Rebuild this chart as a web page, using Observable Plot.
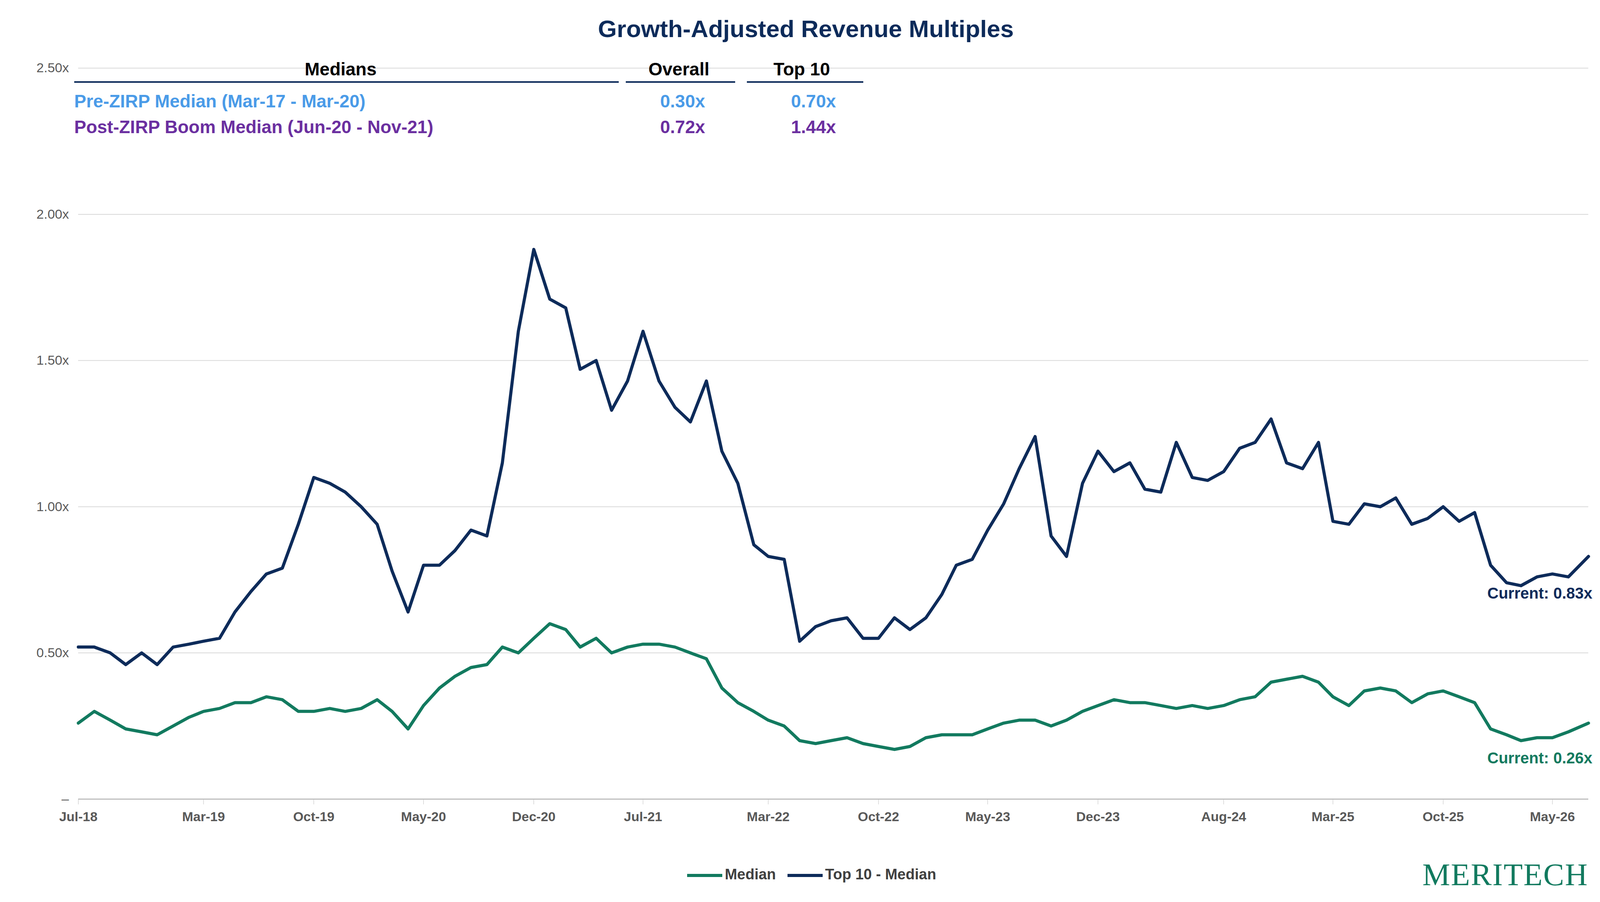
<!DOCTYPE html>
<html><head><meta charset="utf-8">
<script src="https://cdn.jsdelivr.net/npm/d3@7"></script>
<script src="https://cdn.jsdelivr.net/npm/@observablehq/plot@0.6"></script>
<style>
body{margin:0;width:4126px;height:2310px;background:#fff;font-family:Arial,"Liberation Sans",sans-serif;position:relative;overflow:hidden}
#title{position:absolute;top:38px;width:100%;text-align:center;font-size:62px;font-weight:bold;color:#0d2b5a}
#chart{position:absolute;left:0;top:120px}
.t{position:absolute;font-size:46px;font-weight:bold;white-space:nowrap}
.hl{position:absolute;height:4px;background:#0d2b5a}
#legend{position:absolute;top:2218px;width:100%;text-align:center;font-size:38px;font-weight:bold;color:#404040}
#legend span.sw{display:inline-block;width:90px;height:8px;vertical-align:middle;margin:0 6px 0 30px}
#logo{position:absolute;right:60px;top:2195px;font-family:"Liberation Serif","DejaVu Serif",serif;font-size:80px;color:#127a5f;letter-spacing:2px}
</style></head><body>
<div id="title">Growth-Adjusted Revenue Multiples</div>
<div id="chart"></div>
<div class="t" style="left:780px;top:150px;color:#000">Medians</div>
<div class="t" style="left:1660px;top:150px;color:#000">Overall</div>
<div class="t" style="left:1980px;top:150px;color:#000">Top 10</div>
<div class="hl" style="left:190px;top:208px;width:1394px"></div>
<div class="hl" style="left:1602px;top:208px;width:280px"></div>
<div class="hl" style="left:1912px;top:208px;width:298px"></div>
<div class="t" style="left:190px;top:232px;color:#4a9be8">Pre-ZIRP Median (Mar-17 - Mar-20)</div>
<div class="t" style="left:1690px;top:232px;color:#4a9be8">0.30x</div>
<div class="t" style="left:2025px;top:232px;color:#4a9be8">0.70x</div>
<div class="t" style="left:190px;top:298px;color:#6b2fa0">Post-ZIRP Boom Median (Jun-20 - Nov-21)</div>
<div class="t" style="left:1690px;top:298px;color:#6b2fa0">0.72x</div>
<div class="t" style="left:2025px;top:298px;color:#6b2fa0">1.44x</div>
<div id="legend"><span class="sw" style="background:#127a5f"></span>Median<span class="sw" style="background:#0d2b5a"></span>Top 10 - Median</div>
<div id="logo">MERITECH</div>
<script>
const dates = ["2018-07-01","2018-08-01","2018-09-01","2018-10-01","2018-11-01","2018-12-01","2019-01-01","2019-02-01","2019-03-01","2019-04-01","2019-05-01","2019-06-01","2019-07-01","2019-08-01","2019-09-01","2019-10-01","2019-11-01","2019-12-01","2020-01-01","2020-02-01","2020-03-01","2020-04-01","2020-05-01","2020-06-01","2020-07-01","2020-08-01","2020-09-01","2020-10-01","2020-11-01","2020-12-01","2021-01-01","2021-02-01","2021-03-01","2021-04-01","2021-05-01","2021-06-01","2021-07-01","2021-08-01","2021-09-01","2021-10-01","2021-11-01","2021-12-01","2022-01-01","2022-02-01","2022-03-01","2022-04-01","2022-05-01","2022-06-01","2022-07-01","2022-08-01","2022-09-01","2022-10-01","2022-11-01","2022-12-01","2023-01-01","2023-02-01","2023-03-01","2023-04-01","2023-05-01","2023-06-01","2023-07-01","2023-08-01","2023-09-01","2023-10-01","2023-11-01","2023-12-01","2024-01-01","2024-02-01","2024-03-01","2024-04-01","2024-05-01","2024-06-01","2024-07-01","2024-08-01","2024-09-01","2024-10-01","2024-11-01","2024-12-01","2025-01-01","2025-02-01","2025-03-01","2025-04-01","2025-05-01","2025-06-01","2025-07-01","2025-08-01","2025-09-01","2025-10-01","2025-11-01","2025-12-01","2026-01-01","2026-02-01","2026-03-01","2026-04-01","2026-05-01","2026-06-01","2026-07-10"];
const top10 = [0.52,0.52,0.50,0.46,0.50,0.46,0.52,0.53,0.54,0.55,0.64,0.71,0.77,0.79,0.94,1.10,1.08,1.05,1.00,0.94,0.78,0.64,0.80,0.80,0.85,0.92,0.90,1.15,1.60,1.88,1.71,1.68,1.47,1.50,1.33,1.43,1.60,1.43,1.34,1.29,1.43,1.19,1.08,0.87,0.83,0.82,0.54,0.59,0.61,0.62,0.55,0.55,0.62,0.58,0.62,0.70,0.80,0.82,0.92,1.01,1.13,1.24,0.90,0.83,1.08,1.19,1.12,1.15,1.06,1.05,1.22,1.10,1.09,1.12,1.20,1.22,1.30,1.15,1.13,1.22,0.95,0.94,1.01,1.00,1.03,0.94,0.96,1.00,0.95,0.98,0.80,0.74,0.73,0.76,0.77,0.76,0.83];
const median = [0.26,0.30,0.27,0.24,0.23,0.22,0.25,0.28,0.30,0.31,0.33,0.33,0.35,0.34,0.30,0.30,0.31,0.30,0.31,0.34,0.30,0.24,0.32,0.38,0.42,0.45,0.46,0.52,0.50,0.55,0.60,0.58,0.52,0.55,0.50,0.52,0.53,0.53,0.52,0.50,0.48,0.38,0.33,0.30,0.27,0.25,0.20,0.19,0.20,0.21,0.19,0.18,0.17,0.18,0.21,0.22,0.22,0.22,0.24,0.26,0.27,0.27,0.25,0.27,0.30,0.32,0.34,0.33,0.33,0.32,0.31,0.32,0.31,0.32,0.34,0.35,0.40,0.41,0.42,0.40,0.35,0.32,0.37,0.38,0.37,0.33,0.36,0.37,0.35,0.33,0.24,0.22,0.20,0.21,0.21,0.23,0.26];
const tickDates = ["2018-07-01","2019-03-01","2019-10-01","2020-05-01","2020-12-01","2021-07-01","2022-03-01","2022-10-01","2023-05-01","2023-12-01","2024-08-01","2025-03-01","2025-10-01","2026-05-01"];
const tickLabels = ["Jul-18","Mar-19","Oct-19","May-20","Dec-20","Jul-21","Mar-22","Oct-22","May-23","Dec-23","Aug-24","Mar-25","Oct-25","May-26"];
const yTicks = [0,0.5,1,1.5,2,2.5];

const rows = dates.map((d,i)=>({date:new Date(d),top10:top10[i],median:median[i]}));
const tks = tickDates.map(d=>new Date(d));
const lbl = new Map(tks.map((d,i)=>[+d,tickLabels[i]]));
const last = rows[rows.length-1];
const chart = Plot.plot({
  width:4126, height:2000,
  marginLeft:200, marginRight:60, marginTop:54, marginBottom:74,
  style:{fontFamily:"Arial, 'Liberation Sans', sans-serif", fontSize:"34px", color:"#595959"},
  x:{type:"utc", domain:[new Date("2018-07-01"), new Date("2026-07-10")]},
  y:{domain:[0,2.5]},
  marks:[
    Plot.gridY(yTicks.filter(v=>v>0),{stroke:"#d9d9d9",strokeOpacity:1,strokeWidth:2}),
    Plot.ruleY([0],{stroke:"#bfbfbf",strokeWidth:3}),
    Plot.axisY({ticks:yTicks, tickSize:0, tickPadding:24, tickFormat:v=>v===0?"–":v.toFixed(2)+"x", fontSize:34}),
    Plot.axisX({ticks:tks, tickSize:14, tickFormat:d=>lbl.get(+d), fontSize:34, fontWeight:"bold", tickPadding:18, stroke:"#bfbfbf"}),
    Plot.lineY(rows,{x:"date",y:"median",stroke:"#127a5f",strokeWidth:8}),
    Plot.lineY(rows,{x:"date",y:"top10",stroke:"#0d2b5a",strokeWidth:8}),
    Plot.text([last],{x:"date",y:"top10",text:d=>"Current: "+d.top10.toFixed(2)+"x",dy:95,dx:10,textAnchor:"end",fill:"#0d2b5a",fontWeight:"bold",fontSize:40}),
    Plot.text([last],{x:"date",y:"median",text:d=>"Current: "+d.median.toFixed(2)+"x",dy:90,dx:10,textAnchor:"end",fill:"#127a5f",fontWeight:"bold",fontSize:40})
  ]
});
document.getElementById("chart").appendChild(chart);
</script>
</body></html>
